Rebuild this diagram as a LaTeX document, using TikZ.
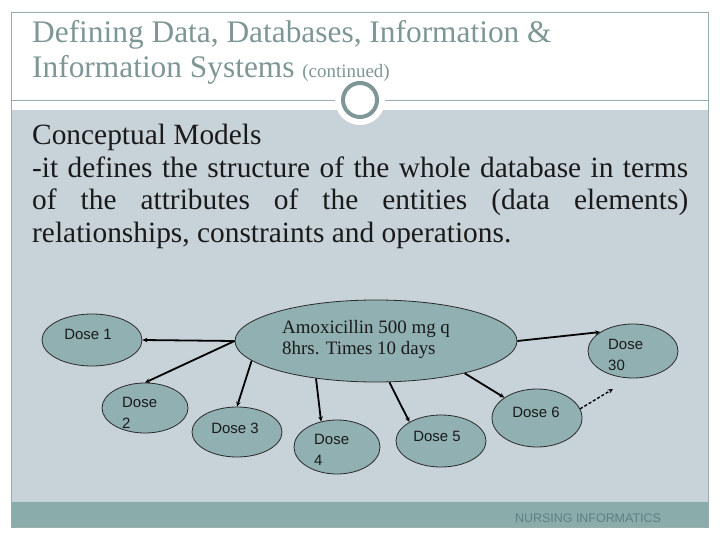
\documentclass[tikz,border=0pt]{standalone}
\usepackage{fontspec}
\setmainfont{Liberation Serif}
\setsansfont{Liberation Sans}
\usetikzlibrary{arrows.meta, shapes.geometric, positioning}
\definecolor{fgdark}{HTML}{1A1A1A}
\definecolor{titlecol}{HTML}{7E9696}
\definecolor{framecol}{HTML}{98ACAC}
\definecolor{bodyfill}{HTML}{C8D3D9}
\definecolor{footfill}{HTML}{8AACAB}
\definecolor{foottext}{HTML}{5F7F80}
\definecolor{dosefill}{HTML}{91B0B1}
\definecolor{doseline}{HTML}{2A2A2A}
\definecolor{ringcol}{HTML}{7E9696}
\tikzset{
  dose/.style={ellipse, draw=doseline, fill=dosefill, line width=0.8pt, inner sep=0pt},
  dosetxt/.style={font=\sffamily\fontsize{15}{21}\selectfont, text=fgdark, align=left, inner sep=0pt},
  titleline/.style={anchor=base west, inner sep=0pt, text=titlecol, font=\fontsize{31.5}{35}\selectfont},
  bodyline/.style={anchor=base west, inner sep=0pt, text=fgdark, font=\fontsize{29.5}{33}\selectfont},
  dep/.style={-{Stealth[length=5pt,width=4.5pt]}, line width=1.8pt, black},
  hint/.style={-{Stealth[length=5pt,width=4.5pt]}, line width=1.4pt, black, dash pattern=on 3pt off 2pt},
}

\begin{document}
\begin{tikzpicture}[x=1bp, y=-1bp]
\useasboundingbox (0,0) rectangle (720,540);

% -- slide frame ----------------------------------------------------
\fill[white] (0,0) rectangle (720,540);
\fill[bodyfill] (11,110) rectangle (708,502);
\fill[footfill] (11,502) rectangle (708,527);
\draw[framecol, line width=0.8pt] (11,12) rectangle (708,527);
\draw[framecol, line width=0.8pt] (11,100) -- (708,100);
\fill[white] (360,100) circle[radius=25];
\draw[ringcol, line width=4pt, fill=white] (360,100) circle[radius=17];

% -- title and text -------------------------------------------------
\node[titleline] (title1) at (32,43) {Defining Data, Databases, Information \&};
\node[titleline] (title2) at (32,78)
  {Information Systems {\fontsize{19}{21}\selectfont(continued)}};
\node[bodyline] (body1) at (32,145) {Conceptual Models};
\node[bodyline] (body2) at (32,178)
  {\makebox[656bp][s]{-it defines the structure of the whole database in terms}};
\node[bodyline] (body3) at (32,210)
  {\makebox[656bp][s]{of the attributes of the entities (data elements)}};
\node[bodyline] (body4) at (32,243) {relationships, constraints and operations.};

% -- dose ellipses --------------------------------------------------
\node[dose, minimum width=282bp, minimum height=82bp] (amox) at (376,341) {};
\node[dose, minimum width=100bp, minimum height=52bp] (dose1) at (92,340) {};
\node[dose, minimum width=86bp, minimum height=50bp] (dose2) at (145,408) {};
\node[dose, minimum width=90bp, minimum height=50bp] (dose3) at (237,432) {};
\node[dose, minimum width=86bp, minimum height=54bp] (dose4) at (337,447) {};
\node[dose, minimum width=90bp, minimum height=52bp] (dose5) at (441,441) {};
\node[dose, minimum width=90bp, minimum height=58bp] (dose6) at (537,418) {};
\node[dose, minimum width=90bp, minimum height=54bp] (dose30) at (633,351) {};

\node[anchor=base west, inner sep=0pt, text=fgdark, font=\fontsize{19}{21}\selectfont]
  (amoxtxt1) at (282,333) {Amoxicillin 500 mg q};
\node[anchor=base west, inner sep=0pt, text=fgdark, font=\fontsize{19}{21}\selectfont]
  (amoxtxt2) at (282,354) {8hrs. Times 10 days};
\node[dosetxt] (dose1txt) at (88,334) {Dose 1};
\node[dosetxt, anchor=north west] (dose2txt) at (122,397) {Dose\\2};
\node[dosetxt] (dose3txt) at (235,428) {Dose 3};
\node[dosetxt, anchor=north west] (dose4txt) at (314,434) {Dose\\4};
\node[dosetxt] (dose5txt) at (437,436) {Dose 5};
\node[dosetxt] (dose6txt) at (536,412) {Dose 6};
\node[dosetxt, anchor=north west] (dose30txt) at (608,339) {Dose\\30};

% -- connectors -----------------------------------------------------
\coordinate (next) at (613,389);
\draw[dep] (amox.west) -- (dose1.east);
\draw[dep] (amox.west) -- (dose2.north);
\draw[dep] (amox.189) -- (dose3.north);
\draw[dep] (amox.212) -- (dose4.122);
\draw[dep] (amox.288) -- (dose5.149);
\draw[dep] (amox.340) -- (dose6.148);
\draw[dep] (amox.east) -- (dose30.150);
\draw[hint] (dose6.12) -- (next);

% -- footer ---------------------------------------------------------
\node[inner sep=0pt, text=foottext, font=\sffamily\fontsize{12.5}{14}\selectfont]
  (footer) at (588,518) {NURSING INFORMATICS};

\end{tikzpicture}
\end{document}
